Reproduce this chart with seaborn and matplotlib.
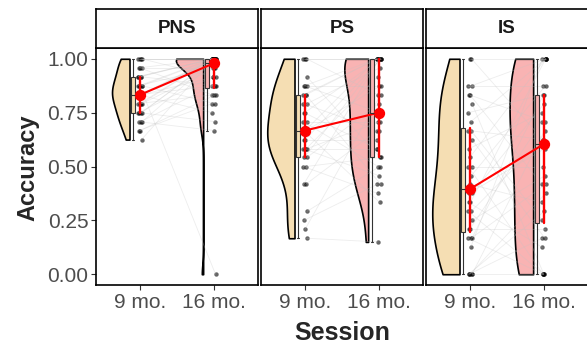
import numpy as np
import pandas as pd
import matplotlib
matplotlib.use("Agg")
import matplotlib.pyplot as plt
import seaborn as sns

conditions = ["PNS", "PS", "IS"]
sessions = ["9 mo.", "16 mo."]
y_ticks = [0.0, 0.25, 0.50, 0.75, 1.0]
y_tick_labels = ["0.00", "0.25", "0.50", "0.75", "1.00"]

PNS_9 = [1.000, 1.000, 1.000, 1.000, 0.958, 0.958, 0.958, 0.917, 0.917, 0.917, 0.917, 0.875,
         0.875, 0.875, 0.875, 0.875, 0.833, 0.833, 0.833, 0.833, 0.833, 0.833, 0.792, 0.792,
         0.792, 0.792, 0.750, 0.750, 0.750, 0.750, 0.708, 0.708, 0.708, 0.667, 0.667, 0.625]
PNS_16 = [1.000, 0.917, 1.000, 1.000, 0.833, 1.000, 0.958, 1.000, 0.875, 1.000, 1.000, 0.792,
          1.000, 0.000, 1.000, 0.958, 0.917, 1.000, 0.875, 1.000, 0.750, 1.000, 1.000, 0.833,
          0.958, 1.000, 0.708, 1.000, 0.917, 1.000, 0.875, 0.667, 1.000, 0.792, 0.833, 1.000]
PS_9 = [1.000, 1.000, 1.000, 0.917, 0.875, 0.875, 0.875, 0.833, 0.833, 0.833, 0.792, 0.792,
        0.750, 0.750, 0.708, 0.708, 0.667, 0.667, 0.667, 0.667, 0.625, 0.625, 0.583, 0.583,
        0.583, 0.583, 0.542, 0.542, 0.500, 0.500, 0.417, 0.417, 0.292, 0.250, 0.208, 0.167]
PS_16 = [1.000, 0.833, 1.000, 0.542, 1.000, 0.750, 0.875, 1.000, 0.417, 1.000, 0.667, 0.958,
         0.583, 1.000, 0.708, 0.500, 0.875, 1.000, 0.333, 0.750, 0.625, 1.000, 0.917, 0.458,
         0.708, 0.583, 1.000, 0.792, 0.375, 0.542, 0.667, 1.000, 0.500, 0.417, 0.833, 0.150]
IS_9 = [1.000, 1.000, 0.875, 0.875, 0.833, 0.833, 0.792, 0.750, 0.708, 0.667, 0.667, 0.625,
        0.583, 0.542, 0.500, 0.500, 0.458, 0.417, 0.375, 0.375, 0.333, 0.333, 0.292, 0.292,
        0.250, 0.208, 0.208, 0.167, 0.167, 0.167, 0.125, 0.000, 0.000, 0.000, 0.000, 0.000]
IS_16 = [1.000, 0.625, 0.875, 1.000, 0.417, 0.708, 0.000, 0.833, 1.000, 0.250, 0.625, 0.167,
         0.750, 1.000, 0.500, 0.000, 0.875, 0.333, 0.583, 0.792, 0.125, 1.000, 0.625, 0.000,
         0.458, 0.708, 0.208, 0.833, 0.000, 0.417, 1.000, 0.292, 0.667, 0.167, 0.375, 0.000]

series = {"PNS": (PNS_9, PNS_16), "PS": (PS_9, PS_16), "IS": (IS_9, IS_16)}

sns.set_theme(style="white")
plt.rcParams["font.family"] = ["Liberation Sans", "DejaVu Sans"]

rows = []
for c in conditions:
    a9, a16 = series[c]
    for i, (v9, v16) in enumerate(zip(a9, a16)):
        rows.append(dict(cond=c, subj=i, session="9 mo.", s=0, acc=v9))
        rows.append(dict(cond=c, subj=i, session="16 mo.", s=1, acc=v16))
df = pd.DataFrame(rows)
df["xp"] = df["s"] + 0.026 * np.sin(df["subj"] * 2.4 + df["s"] * 1.3)
df["xb"] = df["s"] - 0.095
df["side"] = "L"

colors = {"9 mo.": "#F5DEB3", "16 mo.": "#F9B3B3"}


def nrd0(v):
    v = np.asarray(v, float)
    sd = v.std(ddof=1)
    iqr = np.subtract(*np.percentile(v, [75, 25]))
    lo = min(sd, iqr / 1.34) if iqr > 0 else sd
    return 0.9 * lo * len(v) ** -0.2


def peak_density(v, bw):
    v = np.asarray(v, float)
    g = np.linspace(v.min(), v.max(), 400)
    z = (g[:, None] - v[None, :]) / bw
    dens = np.exp(-0.5 * z ** 2).sum(1) / (len(v) * bw * np.sqrt(2 * np.pi))
    return dens.max()


W, H = 587, 345
fig = plt.figure(figsize=(W / 100, H / 100), dpi=100)
lefts = [96, 261, 426]
pw = 162
top, bot, stop = 48, 285, 9
max_half = 0.37
edge = -0.145

for k, c in enumerate(conditions):
    ax = fig.add_axes([lefts[k] / W, (H - bot) / H, pw / W, (bot - top) / H])
    d = df[df["cond"] == c].copy()
    sns.lineplot(data=d, x="xp", y="acc", units="subj", estimator=None, color="#C4C4C4",
                 alpha=0.3, lw=0.6, ax=ax, legend=False)

    bws, peaks = [], []
    for s in sessions:
        v = d.loc[d["session"] == s, "acc"].values
        bw = nrd0(v)
        bws.append(bw)
        peaks.append(peak_density(v, bw))
    pmax = max(peaks)
    for j, s in enumerate(sessions):
        ds = d[d["session"] == s].copy()
        wg = max_half * peaks[j] / pmax
        ds["xv"] = ds["s"] + edge - wg / 2
        sd = ds["acc"].std(ddof=1)
        sns.violinplot(data=ds, x="xv", y="acc", hue="side", hue_order=["L", "R"], split=True,
                       native_scale=True, dodge=False, inner=None, cut=0, density_norm="width",
                       width=wg, bw_method=bws[j] / sd, linewidth=1.2, linecolor="black",
                       saturation=1, palette={"L": colors[s], "R": "white"}, legend=False,
                       ax=ax)

    sns.boxplot(data=d, x="xb", y="acc", hue="session", hue_order=sessions, palette=colors,
                native_scale=True, dodge=False, width=0.055, showfliers=False, linewidth=0.8,
                linecolor="#333333", saturation=1, legend=False, ax=ax)
    sns.scatterplot(data=d, x="xp", y="acc", color="black", alpha=0.6, s=10, linewidth=0,
                    ax=ax, legend=False)
    sns.pointplot(data=d, x="s", y="acc", estimator="median", errorbar=("pi", 50),
                  native_scale=True, color="red", markersize=7, linewidth=1.5,
                  err_kws={"linewidth": 1.7}, ax=ax)
    ax.set_xlim(-0.6, 1.6)
    ax.set_ylim(-0.05, 1.05)
    ax.set_xticks([0, 1])
    ax.set_xticklabels(sessions)
    ax.set_yticks(y_ticks)
    ax.set_xlabel("")
    ax.set_ylabel("")
    ax.tick_params(axis="both", direction="out", length=3.5, width=0.8, color="#333333",
                   labelcolor="#4D4D4D", labelsize=15, pad=2, bottom=True, left=(k == 0))
    if k == 0:
        ax.set_yticklabels(y_tick_labels)
    else:
        ax.set_yticklabels([])
    for sp in ax.spines.values():
        sp.set_color("black")
        sp.set_linewidth(1.2)

    sax = fig.add_axes([lefts[k] / W, (H - top) / H, pw / W, (top - stop) / H])
    sax.set_xticks([])
    sax.set_yticks([])
    sax.set_facecolor("white")
    for sp in sax.spines.values():
        sp.set_color("black")
        sp.set_linewidth(1.2)
    sax.text(0.5, 0.5, c, ha="center", va="center", fontsize=13.5, fontweight="bold",
             color="#1A1A1A", transform=sax.transAxes)

fig.text(28 / W, 1 - 168 / H, "Accuracy", rotation=90, ha="center", va="center",
         fontsize=17, fontweight="bold")
fig.text(342 / W, 1 - 333 / H, "Session", ha="center", va="center", fontsize=18,
         fontweight="bold")

fig.savefig("out.png", dpi=100, facecolor="white")
